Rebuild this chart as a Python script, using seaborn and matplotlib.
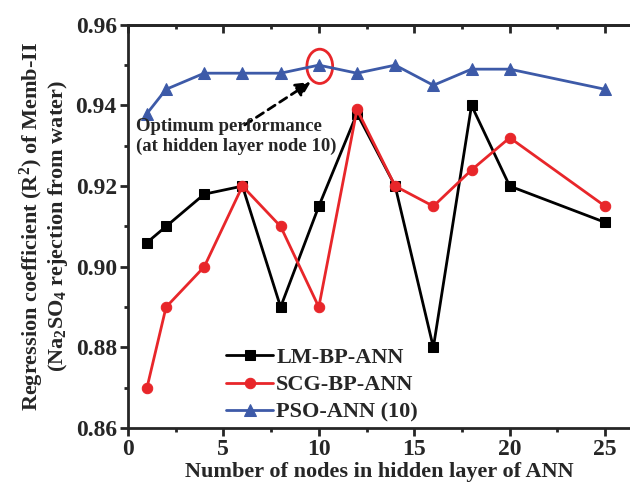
import numpy as np
import pandas as pd
import matplotlib
matplotlib.use("Agg")
import matplotlib.pyplot as plt
import seaborn as sns
from matplotlib.patches import Ellipse
from matplotlib.ticker import MultipleLocator

# data
nodes = [1, 2, 4, 6, 8, 10, 12, 14, 16, 18, 20, 25]
lm_bp = [0.906, 0.910, 0.918, 0.920, 0.890, 0.915, 0.938, 0.920, 0.880, 0.940, 0.920, 0.911]
scg_bp = [0.870, 0.890, 0.900, 0.920, 0.910, 0.890, 0.939, 0.920, 0.915, 0.924, 0.932, 0.915]
pso = [0.938, 0.944, 0.948, 0.948, 0.948, 0.950, 0.948, 0.950, 0.945, 0.949, 0.949, 0.944]
series_names = ["LM-BP-ANN", "SCG-BP-ANN", "PSO-ANN (10)"]
colours = ["#000000", "#e8262a", "#3d5aa8"]
markers = ["s", "o", "^"]
msizes = [6.5, 7.5, 8]

sns.set_style("ticks")
plt.rcParams["font.family"] = ["Liberation Serif", "DejaVu Serif"]
plt.rcParams["font.weight"] = "bold"
plt.rcParams["mathtext.fontset"] = "custom"
plt.rcParams["mathtext.rm"] = "Liberation Serif:bold"
plt.rcParams["mathtext.bf"] = "Liberation Serif:bold"
plt.rcParams["mathtext.it"] = "Liberation Serif:bold"

df = pd.DataFrame({"nodes": nodes * 3,
                   "r2": lm_bp + scg_bp + pso,
                   "model": np.repeat(series_names, len(nodes))})

fig = plt.figure(figsize=(6.3, 4.96), dpi=100)
ax = fig.add_axes([0.203, 0.137, 0.797, 0.813])

for name, c, m, ms in zip(series_names, colours, markers, msizes):
    sub = df[df["model"] == name]
    sns.lineplot(data=sub, x="nodes", y="r2", ax=ax, color=c, marker=m,
                 markersize=ms, markeredgecolor=c, linewidth=2, label=name)

ax.set_xlim(0, 26.3)
ax.set_ylim(0.86, 0.96)
ax.xaxis.set_major_locator(MultipleLocator(5))
ax.xaxis.set_minor_locator(MultipleLocator(2.5))
ax.yaxis.set_major_locator(MultipleLocator(0.02))
ax.yaxis.set_minor_locator(MultipleLocator(0.01))
ax.yaxis.set_major_formatter(matplotlib.ticker.FormatStrFormatter("%.2f"))
ax.tick_params(which="major", length=6, width=2, labelsize=17, direction="out", pad=2)
ax.tick_params(which="minor", length=3, width=2, direction="out")
for sp in ax.spines.values():
    sp.set_linewidth(2)
ax.spines["right"].set_visible(False)

# top ticks point inward
top = ax.secondary_xaxis("top")
top.xaxis.set_major_locator(MultipleLocator(5))
top.xaxis.set_minor_locator(MultipleLocator(2.5))
top.tick_params(which="major", direction="in", length=6, width=2, labeltop=False)
top.tick_params(which="minor", direction="in", length=3, width=2)
top.spines["top"].set_linewidth(2)

ax.set_xlabel("Number of nodes in hidden layer of ANN", fontsize=16, fontweight="bold", labelpad=1)
ax.set_ylabel("Regression coefficient (R$^{2}$) of Memb-II\n(Na$_{2}$SO$_{4}$ rejection from water)",
              fontsize=16, fontweight="bold", labelpad=4, linespacing=1.0)

# optimum annotation
ax.add_patch(Ellipse((10.05, 0.9497), 1.35, 0.0085, fill=False, edgecolor="#e8262a", linewidth=2))
ax.annotate("", xy=(9.7, 0.9462), xytext=(6.0, 0.9348),
            arrowprops=dict(arrowstyle="-|>", color="black", linestyle=(0, (3, 2)),
                            linewidth=2, mutation_scale=22))
ax.text(0.4, 0.9322, "Optimum performance\n(at hidden layer node 10)", fontsize=13.5,
        fontweight="bold", va="center", ha="left", linespacing=1.2)

leg = ax.legend(loc="lower left", bbox_to_anchor=(0.165, -0.025), frameon=False, fontsize=16,
                handlelength=2.1, handletextpad=0.15, labelspacing=0.3, borderaxespad=0.3)

fig.savefig("out.png", dpi=100)
